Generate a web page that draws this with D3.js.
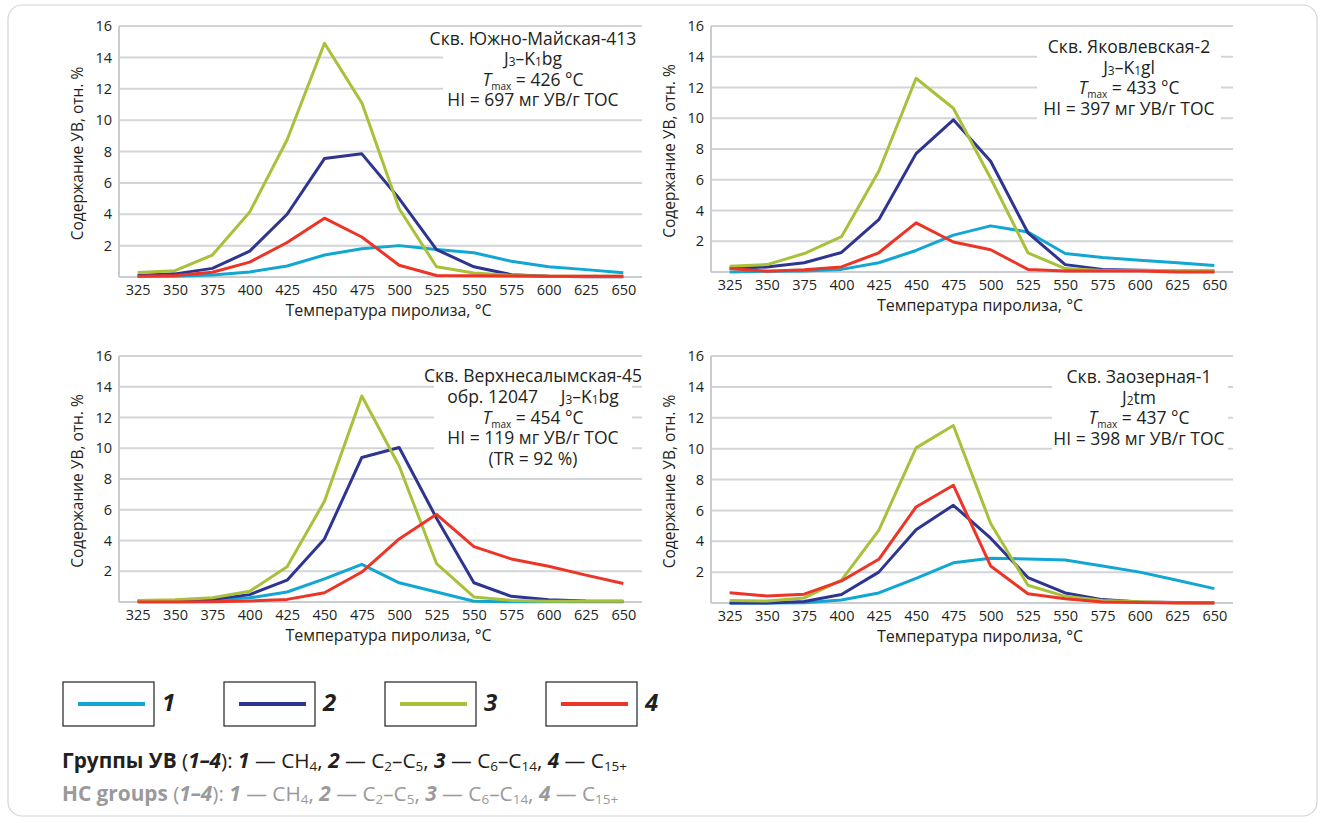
<!DOCTYPE html>
<html>
<head>
<meta charset="utf-8">
<script src="https://cdn.jsdelivr.net/npm/d3@7"></script>
<style>
	body { margin: 0; background: #fff; }
	svg text { font-family: 'Open Sans', sans-serif; fill: #231f20; white-space: pre; }
</style>
</head>
<body>
<svg id="chart" width="1325" height="824"></svg>
<script>
// Pyrolysis temperature steps and y ticks
const temps = [325, 350, 375, 400, 425, 450, 475, 500, 525, 550, 575, 600, 625, 650];
const yTicks = [2, 4, 6, 8, 10, 12, 14, 16];
const groupLabels = ["1", "2", "3", "4"];

// Скв. Южно-Майская-413
const ym_ch4  = [0.05, 0.05, 0.12, 0.32, 0.7, 1.4, 1.8, 2.0, 1.75, 1.55, 1.0, 0.65, 0.47, 0.27];
const ym_c2c5 = [0.1, 0.2, 0.55, 1.65, 4.0, 7.55, 7.85, 5.0, 1.75, 0.65, 0.15, 0.05, 0.02, 0.02];
const ym_c6   = [0.28, 0.4, 1.4, 4.15, 8.75, 14.9, 11.1, 4.35, 0.65, 0.25, 0.1, 0.05, 0.05, 0.05];
const ym_c15  = [0.05, 0.1, 0.3, 0.95, 2.2, 3.75, 2.55, 0.75, 0.1, 0.08, 0.06, 0.05, 0.05, 0.05];

// Скв. Яковлевская-2
const ya_ch4  = [0.0, 0.05, 0.07, 0.17, 0.6, 1.4, 2.4, 3.0, 2.6, 1.2, 0.95, 0.77, 0.6, 0.42];
const ya_c2c5 = [0.22, 0.33, 0.6, 1.27, 3.4, 7.7, 9.9, 7.2, 2.55, 0.48, 0.17, 0.12, 0.08, 0.05];
const ya_c6   = [0.37, 0.48, 1.2, 2.3, 6.55, 12.6, 10.65, 6.1, 1.25, 0.22, 0.1, 0.1, 0.1, 0.1];
const ya_c15  = [0.22, 0.05, 0.15, 0.33, 1.25, 3.2, 1.95, 1.45, 0.17, 0.07, 0.07, 0.07, 0.0, 0.0];

// Скв. Верхнесалымская-45
const vs_ch4  = [0.1, 0.1, 0.15, 0.27, 0.65, 1.5, 2.45, 1.25, 0.65, 0.05, 0.02, 0.02, 0.02, 0.02];
const vs_c2c5 = [0.05, 0.07, 0.17, 0.48, 1.42, 4.1, 9.4, 10.05, 5.45, 1.25, 0.37, 0.15, 0.07, 0.05];
const vs_c6   = [0.1, 0.15, 0.28, 0.7, 2.3, 6.55, 13.4, 8.85, 2.5, 0.33, 0.1, 0.05, 0.05, 0.05];
const vs_c15  = [0.0, 0.0, 0.02, 0.07, 0.17, 0.6, 1.95, 4.1, 5.7, 3.6, 2.8, 2.33, 1.75, 1.2];

// Скв. Заозерная-1
const zo_ch4  = [0.0, 0.0, 0.02, 0.2, 0.65, 1.6, 2.6, 2.9, 2.85, 2.78, 2.4, 2.0, 1.47, 0.93];
const zo_c2c5 = [0.0, 0.0, 0.1, 0.55, 2.0, 4.75, 6.33, 4.2, 1.65, 0.65, 0.22, 0.07, 0.03, 0.02];
const zo_c6   = [0.17, 0.13, 0.33, 1.48, 4.7, 10.05, 11.5, 5.15, 1.15, 0.43, 0.17, 0.08, 0.02, 0.02];
const zo_c15  = [0.67, 0.45, 0.57, 1.43, 2.83, 6.22, 7.63, 2.4, 0.6, 0.28, 0.07, 0.03, 0.0, 0.0];

const colors = ["#12a6d2", "#2d3590", "#a9c13a", "#ec3427"];
const gridColor = "#d2d5d8";

const svg = d3.select("#chart");

// Rich text helper: segments {t, b, i, sub, low, subSize}
function richText(g, x, y, segs, size, anchor = "middle", fill = null) {
	const txt = g.append("text")
		.attr("x", x).attr("y", y)
		.attr("text-anchor", anchor)
		.attr("dominant-baseline", "middle")
		.style("font-size", size + "px");
	if (fill) txt.style("fill", fill);
	let shift = 0;
	segs.forEach(s => {
		const ts = txt.append("tspan").text(s.t);
		if (s.b) ts.style("font-weight", "bold");
		if (s.i) ts.style("font-style", "italic");
		if (fill) ts.style("fill", fill);
		let target = 0;
		if (s.sub) {
			target = s.low !== undefined ? s.low : size * 0.28;
			ts.style("font-size", (s.subSize || size * 0.68) + "px");
		}
		if (target !== shift) {
			ts.attr("dy", target - shift);
			shift = target;
		}
	});
	return txt;
}

const panels = [
	{ series: [ym_ch4, ym_c2c5, ym_c6, ym_c15], x0: 119, x1: 642, y0: 277, y1: 26,
		box: [443, 31, 210, 80], tx: 533, ty: 40, lh: 20.3,
		lines: [
			[{ t: "Скв. Южно-Майская-413" }],
			[{ t: "J" }, { t: "3", sub: true, low: 3 }, { t: "–K" }, { t: "1", sub: true, low: 3 }, { t: "bg" }],
			[{ t: "T", i: true }, { t: "max", sub: true, low: 6, subSize: 10 }, { t: " = 426 °C" }],
			[{ t: "HI = 697 мг УВ/г TOC" }]
		] },
	{ series: [ya_ch4, ya_c2c5, ya_c6, ya_c15], x0: 711, x1: 1233, y0: 272, y1: 26,
		box: [1037, 31, 184, 92], tx: 1129, ty: 48, lh: 20.7,
		lines: [
			[{ t: "Скв. Яковлевская-2" }],
			[{ t: "J" }, { t: "3", sub: true, low: 3 }, { t: "–K" }, { t: "1", sub: true, low: 3 }, { t: "gl" }],
			[{ t: "T", i: true }, { t: "max", sub: true, low: 6, subSize: 10 }, { t: " = 433 °C" }],
			[{ t: "HI = 397 мг УВ/г TOC" }]
		] },
	{ series: [vs_ch4, vs_c2c5, vs_c6, vs_c15], x0: 119, x1: 642, y0: 602, y1: 356,
		box: [434, 363, 198, 108], tx: 533, ty: 377, lh: 20.8,
		lines: [
			[{ t: "Скв. Верхнесалымская-45" }],
			[{ t: "обр. 12047     J" }, { t: "3", sub: true, low: 3 }, { t: "–K" }, { t: "1", sub: true, low: 3 }, { t: "bg" }],
			[{ t: "T", i: true }, { t: "max", sub: true, low: 6, subSize: 10 }, { t: " = 454 °C" }],
			[{ t: "HI = 119 мг УВ/г TOC" }],
			[{ t: "(TR = 92 %)" }]
		] },
	{ series: [zo_ch4, zo_c2c5, zo_c6, zo_c15], x0: 711, x1: 1233, y0: 603, y1: 356,
		box: [1052, 363, 176, 91], tx: 1139, ty: 378, lh: 20.5,
		lines: [
			[{ t: "Скв. Заозерная-1" }],
			[{ t: "J" }, { t: "2", sub: true, low: 3 }, { t: "tm" }],
			[{ t: "T", i: true }, { t: "max", sub: true, low: 6, subSize: 10 }, { t: " = 437 °C" }],
			[{ t: "HI = 398 мг УВ/г TOC" }]
		] }
];

panels.forEach(p => {
	const g = svg.append("g");

	const x = d3.scalePoint().domain(temps).range([p.x0, p.x1]).padding(0.5);
	const y = d3.scaleLinear().domain([0, 16]).range([p.y0, p.y1]);

	// Gridlines
	g.selectAll(".grid").data(yTicks).enter().append("line")
		.attr("x1", p.x0).attr("x2", p.x1)
		.attr("y1", d => y(d)).attr("y2", d => y(d))
		.attr("stroke", gridColor).attr("stroke-width", 2);

	// Axis lines
	g.append("line").attr("x1", p.x0).attr("x2", p.x0).attr("y1", y(16)).attr("y2", y(0))
		.attr("stroke", "#c9cdd0").attr("stroke-width", 2);
	g.append("line").attr("x1", p.x0).attr("x2", p.x1).attr("y1", y(0)).attr("y2", y(0))
		.attr("stroke", "#c9cdd0").attr("stroke-width", 2);

	const yAxis = d3.axisLeft(y).tickValues(yTicks).tickSize(0).tickPadding(7);
	const yg = g.append("g").attr("transform", `translate(${p.x0},0)`).call(yAxis);
	const xAxis = d3.axisBottom(x).tickSize(0).tickPadding(8);
	const xg = g.append("g").attr("transform", `translate(0,${y(0)})`).call(xAxis);
	[yg, xg].forEach(a => {
		a.select(".domain").remove();
		a.selectAll("text").style("font-size", "14.5px").style("font-family", "'Open Sans', sans-serif").attr("fill", "#231f20");
	});

	// Axis titles
	g.append("text")
		.attr("transform", `translate(${p.x0 - 40},${(p.y0 + p.y1) / 2 + 2}) rotate(-90)`)
		.attr("text-anchor", "middle").attr("dominant-baseline", "middle")
		.style("font-size", "15.5px")
		.text("Содержание УВ, отн. %");
	g.append("text")
		.attr("x", (p.x0 + p.x1) / 2 + 8).attr("y", p.y0 + 35)
		.attr("text-anchor", "middle").attr("dominant-baseline", "middle")
		.style("font-size", "16px")
		.text("Температура пиролиза, °C");

	// Annotation box
	g.append("rect")
		.attr("x", p.box[0]).attr("y", p.box[1])
		.attr("width", p.box[2]).attr("height", p.box[3])
		.attr("fill", "#fff");

	// Series lines
	const line = d3.line().x((d, i) => x(temps[i])).y(d => y(d));
	p.series.forEach((s, k) => {
		g.append("path").datum(s)
			.attr("d", line)
			.attr("fill", "none")
			.attr("stroke", colors[k])
			.attr("stroke-width", 3)
			.attr("stroke-linejoin", "round");
	});

	p.lines.forEach((segs, j) => {
		richText(g, p.tx, p.ty + j * p.lh, segs, 17.5);
	});
});

// Legend
const lg = svg.append("g");
groupLabels.forEach((lab, k) => {
	const bx = 63 + k * 161;
	lg.append("rect").attr("x", bx).attr("y", 682).attr("width", 91).attr("height", 44)
		.attr("fill", "none").attr("stroke", "#231f20").attr("stroke-width", 1.2);
	lg.append("line").attr("x1", bx + 15).attr("x2", bx + 82).attr("y1", 704).attr("y2", 704)
		.attr("stroke", colors[k]).attr("stroke-width", 4);
	lg.append("text").attr("x", bx + 99).attr("y", 705)
		.attr("dominant-baseline", "middle")
		.style("font-size", "24px").style("font-weight", "bold").style("font-style", "italic")
		.text(lab);
});

// Footer
function footer(title) {
	const sub = t => ({ t, sub: true, low: 5, subSize: 13.5 });
	return [
		{ t: title, b: true }, { t: " (" }, { t: "1–4", b: true, i: true }, { t: "): " },
		{ t: "1", b: true, i: true }, { t: " — CH" }, sub("4"), { t: ", " },
		{ t: "2", b: true, i: true }, { t: " — C" }, sub("2"), { t: "–C" }, sub("5"), { t: ", " },
		{ t: "3", b: true, i: true }, { t: " — C" }, sub("6"), { t: "–C" }, sub("14"), { t: ", " },
		{ t: "4", b: true, i: true }, { t: " — C" }, sub("15+")
	];
}
richText(svg, 62, 762, footer("Группы УВ"), 20.8, "start");
richText(svg, 62, 795, footer("HC groups"), 20.8, "start", "#9a9a9a");

// Outer frame
svg.append("rect").attr("x", 8).attr("y", 5).attr("width", 1309).attr("height", 811)
	.attr("rx", 14).attr("fill", "none").attr("stroke", "#d4d4d4").attr("stroke-width", 1.2);
</script>
</body>
</html>
